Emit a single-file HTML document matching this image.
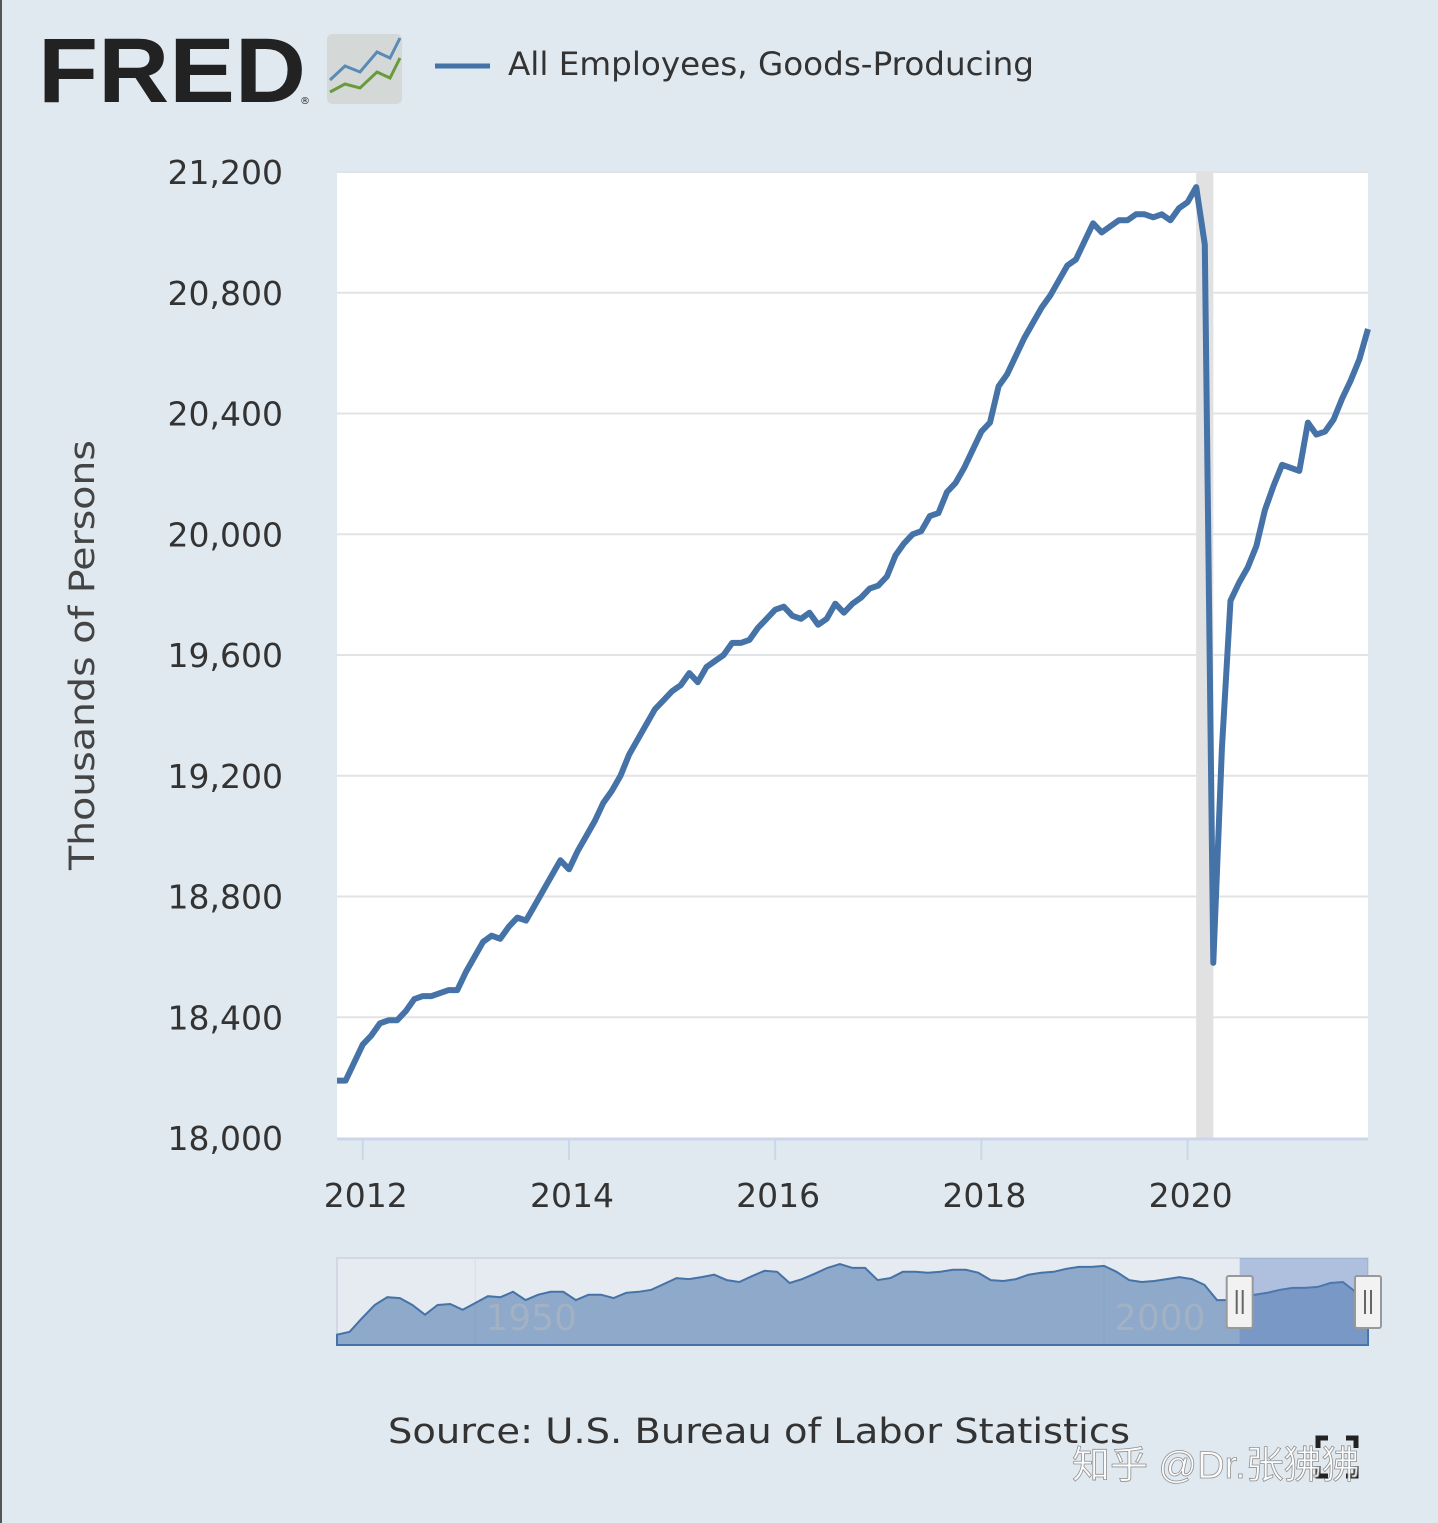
<!DOCTYPE html>
<html><head><meta charset="utf-8">
<style>
body{margin:0;width:1438px;height:1523px;background:#e1e9f0;overflow:hidden;font-family:"DejaVu Sans","Noto Sans CJK SC",sans-serif;position:relative}
svg{position:absolute;left:0;top:0}
</style></head>
<body>
<div style="position:absolute;left:0;top:0;width:2px;height:1523px;background:#555"></div>
<svg id="chart" width="1438" height="1523" xmlns="http://www.w3.org/2000/svg" font-family="DejaVu Sans, sans-serif">
  <text x="38" y="102" font-family="Liberation Sans" font-weight="bold" font-size="92" fill="#222" textLength="268" lengthAdjust="spacingAndGlyphs">FRED</text>
  <text x="300" y="104" font-size="10" fill="#222">®</text>
  <g>
    <rect x="327" y="34" width="75" height="70" rx="5" fill="#d4d9d8"/>
    <polyline points="330,80 345,66 360,72 377,52 390,58 400,38" fill="none" stroke="#5a8ab5" stroke-width="3"/>
    <polyline points="330,92 345,84 360,88 377,72 390,78 400,58" fill="none" stroke="#6a9a3c" stroke-width="3"/>
  </g>
  <line x1="435" y1="66" x2="490" y2="66" stroke="#4572a7" stroke-width="5"/>
  <text x="508" y="75" font-size="32" fill="#333" textLength="526" lengthAdjust="spacingAndGlyphs">All Employees, Goods-Producing</text>
  <rect x="337" y="172" width="1031" height="966" fill="#fff"/>
  <g id="grid"></g>
  <g id="yticks"></g>
  <g id="xticks"></g>
  <text transform="translate(94,655) rotate(-90)" text-anchor="middle" font-size="35" fill="#444" textLength="430" lengthAdjust="spacingAndGlyphs">Thousands of Persons</text>
  <g id="series"></g>
  <g id="nav"></g>
  <text x="388" y="1443" font-size="35" fill="#333" textLength="742" lengthAdjust="spacingAndGlyphs">Source: U.S. Bureau of Labor Statistics</text>
  <g stroke="#222" stroke-width="5" fill="none">
    <polyline points="1318,1448 1318,1438 1328,1438"/><polyline points="1346,1438 1356,1438 1356,1448"/>
    <polyline points="1318,1466 1318,1476 1328,1476"/><polyline points="1346,1476 1356,1476 1356,1466"/>
  </g>
  <text x="1072" y="1478" font-family="Liberation Sans, Noto Sans CJK SC, sans-serif" font-size="38" fill="#fff" stroke="#888" stroke-width="0.8" opacity="0.9">知乎 @Dr.张狒狒</text>
</svg>
<script>
const NS="http://www.w3.org/2000/svg";
const yTicks=[18000,18400,18800,19200,19600,20000,20400,20800,21200];
const yTickLabels=["18,000","18,400","18,800","19,200","19,600","20,000","20,400","20,800","21,200"];
const xTicks=[2012,2014,2016,2018,2020];
const xTickLabels=["2012","2014","2016","2018","2020"];
const startYear=2011+9/12; // Oct 2011
const values=[18190,18190,18250,
18310,18340,18380,18390,18390,18420,18460,18470,18470,18480,18490,18490,
18550,18600,18650,18670,18660,18700,18730,18720,18770,18820,18870,18920,
18890,18950,19000,19050,19110,19150,19200,19270,19320,19370,19420,19450,
19480,19500,19540,19510,19560,19580,19600,19640,19640,19650,19690,19720,
19750,19760,19730,19720,19740,19700,19720,19770,19740,19770,19790,19820,
19830,19860,19930,19970,20000,20010,20060,20070,20140,20170,20220,20280,
20340,20370,20490,20530,20590,20650,20700,20750,20790,20840,20890,20910,
20970,21030,21000,21020,21040,21040,21060,21060,21050,21060,21040,21080,
21100,21150,20960,18580,19290,19780,19840,19890,19960,20080,20160,20230,
20220,20210,20370,20330,20340,20380,20450,20510,20580,20680];
const recession=[2020+1/12,2020+3/12];
const navStart=1939;
const navValues=[12.1,12.7,15.5,18.2,19.8,19.6,18.2,16.2,18.2,18.4,17.2,18.6,20.0,19.8,20.9,19.2,20.3,20.9,20.9,19.2,20.3,20.3,19.6,20.7,20.9,21.3,22.5,23.7,23.5,23.9,24.4,23.3,22.9,24.1,25.2,25.0,22.7,23.5,24.6,25.8,26.6,25.8,25.8,23.3,23.7,25.0,25.0,24.8,25.0,25.4,25.4,24.8,23.3,23.1,23.5,24.4,24.8,25.0,25.6,26.0,26.0,26.2,25.0,23.3,22.9,23.1,23.5,23.9,23.5,22.3,19.2,19.2,19.8,20.3,20.7,21.3,21.7,21.7,21.9,22.7,22.9,20.9,22.1];
const navTicks=[1950,2000];

const X0=337,X1=1368,Y0=1138,Y1=172;
const xMin=startYear,xMax=startYear+(values.length-1)/12;
const xs=t=>X0+(t-xMin)/(xMax-xMin)*(X1-X0);
const ys=v=>Y0-(v-18000)/(21200-18000)*(Y0-Y1);
function mk(tag,attrs,parent){const e=document.createElementNS(NS,tag);for(const k in attrs)e.setAttribute(k,attrs[k]);parent.appendChild(e);return e;}
const grid=document.getElementById('grid'),yt=document.getElementById('yticks'),xt=document.getElementById('xticks'),ser=document.getElementById('series'),nav=document.getElementById('nav');

yTicks.forEach((v,i)=>{
  if(i>0){const l=mk('line',{x1:X0,x2:X1,y1:ys(v),y2:ys(v),stroke:'#e1e4e6','stroke-width':2},grid);
  
  }
  const t=mk('text',{x:283,y:ys(v)+12,'text-anchor':'end','font-size':33,fill:'#333'},yt);
  t.textContent=yTickLabels[i];
  
  
});
const ax=mk('line',{x1:X0,x2:X1,y1:Y0+1,y2:Y0+1,stroke:'#ccd6eb','stroke-width':3},xt);


xTicks.forEach((yr,i)=>{
  const x=xs(yr);
  const tk=mk('line',{x1:x,x2:x,y1:Y0,y2:Y0+22,stroke:'#ccd6eb','stroke-width':2},xt);
  
  
  const t=mk('text',{x:x+3,y:1207,'text-anchor':'middle','font-size':33,fill:'#333'},xt);
  t.textContent=xTickLabels[i];
  
  
});
const rec=mk('rect',{x:xs(recession[0]),y:Y1,width:xs(recession[1])-xs(recession[0]),height:Y0-Y1,fill:'#e1e1e1'},grid);


const pts=values.map((v,i)=>xs(startYear+i/12).toFixed(1)+','+ys(v).toFixed(1)).join(' ');
const line=mk('polyline',{points:pts,fill:'none',stroke:'#4572a7','stroke-width':6,'stroke-linejoin':'round'},ser);



// navigator
const NX0=337,NX1=1368,NY0=1345,NY1=1258;
const nxMax=navStart+navValues.length-1;
const nxs=t=>NX0+(t-navStart)/(nxMax-navStart)*(NX1-NX0);
const nys=v=>NY0-(v-10)/(27-10)*83;
const nb=mk('rect',{x:NX0,y:NY1,width:NX1-NX0,height:NY0-NY1,fill:'#e6ebf1',stroke:'#cfd8e3','stroke-width':2},nav);


navTicks.forEach(yr=>{
  const l=mk('line',{x1:nxs(yr),x2:nxs(yr),y1:NY1,y2:NY0,stroke:'#d5dde6','stroke-width':1},nav);
  
  
});
let d='M'+NX0+','+NY0+' '+navValues.map((v,i)=>'L'+nxs(navStart+i).toFixed(1)+','+nys(v).toFixed(1)).join(' ')+' L'+NX1+','+NY0+' Z';
const na=mk('path',{d:d,fill:'#4572a7','fill-opacity':0.55,stroke:'#4572a7','stroke-width':2},nav);


navTicks.forEach(yr=>{
  const t=mk('text',{x:nxs(yr)+10,y:1330,'font-size':36,fill:'#a8b3c2','fill-opacity':0.8},nav);
  t.textContent=String(yr);
  
  
});
const selX=nxs(startYear)-12;
const sel=mk('rect',{x:selX,y:NY1,width:NX1-selX,height:NY0-NY1,fill:'#5a7fc0','fill-opacity':0.4},nav);


[selX,NX1].forEach(hx=>{
  const g=mk('g',{},nav);
  
  
  mk('rect',{x:hx-13,y:1276,width:26,height:52,fill:'#f2f2f2',stroke:'#999','stroke-width':2,rx:2},g);
  mk('line',{x1:hx-3,x2:hx-3,y1:1290,y2:1314,stroke:'#666','stroke-width':2},g);
  mk('line',{x1:hx+3,x2:hx+3,y1:1290,y2:1314,stroke:'#666','stroke-width':2},g);
});
</script>
</body></html>
